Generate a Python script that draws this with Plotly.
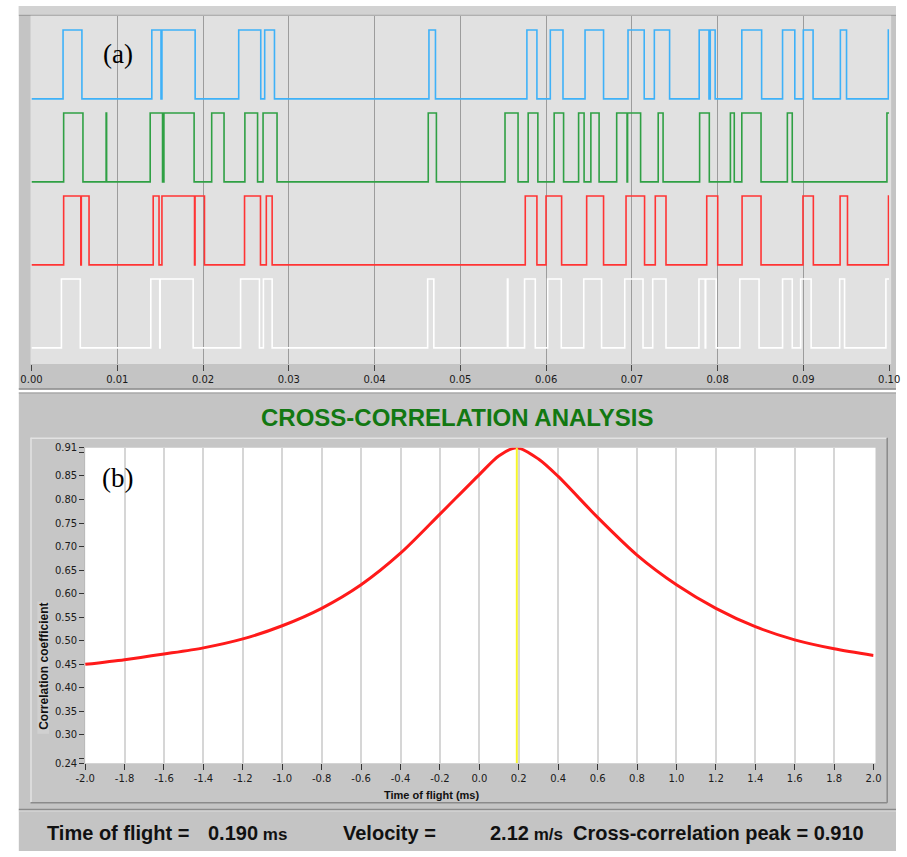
import plotly.graph_objects as go

W, H = 907, 857

# ---------------- data: panel (a) ----------------
# toggle times (s) of each binary sensor signal; every signal starts low at t = 0
t_blue = [0.00368, 0.00588, 0.01403, 0.01510, 0.01521, 0.01908, 0.02416, 0.02673, 0.02719, 0.02833,
          0.04634, 0.04710, 0.05776, 0.05893, 0.06049, 0.06197, 0.06454, 0.06670, 0.06955, 0.07144,
          0.07262, 0.07440, 0.07785, 0.07899, 0.07914, 0.07971, 0.08282, 0.08513, 0.08757, 0.08900,
          0.08999, 0.09113, 0.09431, 0.09503, 0.09990]
t_green = [0.00375, 0.00600, 0.00870, 0.00876, 0.01384, 0.01528, 0.01544, 0.01896, 0.02101, 0.02245,
           0.02488, 0.02636, 0.02700, 0.02863, 0.04626, 0.04721, 0.05521, 0.05673, 0.05791, 0.05904,
           0.06094, 0.06204, 0.06379, 0.06443, 0.06522, 0.06618, 0.06823, 0.06944, 0.06950, 0.07102,
           0.07307, 0.07364, 0.07790, 0.07903, 0.08149, 0.08194, 0.08282, 0.08506, 0.08813, 0.08870,
           0.09974]
t_red = [0.00375, 0.00575, 0.00581, 0.00671, 0.01419, 0.01487, 0.01521, 0.01901, 0.01907, 0.02017,
         0.02484, 0.02670, 0.02738, 0.02806, 0.05757, 0.05893, 0.05999, 0.06181, 0.06473, 0.06670,
         0.06932, 0.07148, 0.07273, 0.07398, 0.07873, 0.08001, 0.08285, 0.08506, 0.08995, 0.09116,
         0.09428, 0.09514, 0.09992]
t_white = [0.00349, 0.00569, 0.01391, 0.01495, 0.01501, 0.01885, 0.02438, 0.02658, 0.02704, 0.02806,
           0.04619, 0.04691, 0.05549, 0.05555, 0.05749, 0.05874, 0.06018, 0.06177, 0.06439, 0.06647,
           0.06917, 0.07130, 0.07243, 0.07398, 0.07782, 0.07855, 0.07861, 0.07983, 0.08259, 0.08483,
           0.08757, 0.08870, 0.08968, 0.09090, 0.09423, 0.09480, 0.09962]
signal_names = ["blue", "green", "red", "white"]
signal_base = [3, 2, 1, 0]
signal_amp = 0.83
a_ticks = [0.00, 0.01, 0.02, 0.03, 0.04, 0.05, 0.06, 0.07, 0.08, 0.09, 0.10]
a_ticktext = ["0.00", "0.01", "0.02", "0.03", "0.04", "0.05", "0.06", "0.07", "0.08", "0.09", "0.10"]

# ---------------- data: panel (b) ----------------
tof_ms = [-2.0, -1.8, -1.6, -1.4, -1.2, -1.0, -0.8, -0.6, -0.4, -0.2, 0.0, 0.1, 0.19,
          0.3, 0.4, 0.6, 0.8, 1.0, 1.2, 1.4, 1.6, 1.8, 2.0]
corr = [0.450, 0.460, 0.472, 0.485, 0.504, 0.532, 0.569, 0.619, 0.686, 0.769, 0.853, 0.893, 0.910,
        0.886, 0.849, 0.762, 0.682, 0.619, 0.569, 0.530, 0.502, 0.483, 0.469]
peak_tof = 0.19
b_xticks = [-2.0, -1.8, -1.6, -1.4, -1.2, -1.0, -0.8, -0.6, -0.4, -0.2, 0.0,
            0.2, 0.4, 0.6, 0.8, 1.0, 1.2, 1.4, 1.6, 1.8, 2.0]
b_xticktext = ["-2.0", "-1.8", "-1.6", "-1.4", "-1.2", "-1.0", "-0.8", "-0.6", "-0.4", "-0.2", "0.0",
               "0.2", "0.4", "0.6", "0.8", "1.0", "1.2", "1.4", "1.6", "1.8", "2.0"]
b_yticks = [0.24, 0.30, 0.35, 0.40, 0.45, 0.50, 0.55, 0.60, 0.65, 0.70, 0.75, 0.80, 0.85, 0.91]
b_yticktext = ["0.24", "0.30", "0.35", "0.40", "0.45", "0.50", "0.55", "0.60", "0.65", "0.70",
               "0.75", "0.80", "0.85", "0.91"]

title_text = "CROSS-CORRELATION ANALYSIS"
result_labels = ["Time of flight =", "Velocity =", "Cross-correlation peak = 0.910"]
result_values = ["0.190", "2.12"]
result_units = ["ms", "m/s"]


def px(x):
    return x / W


def py(y):
    return 1 - y / H


def step_xy(toggles, base, amp):
    xs = [0.0]
    ys = [base]
    level = 0
    for t in toggles:
        level = 1 - level
        xs.append(t)
        ys.append(base + amp * level)
    xs.append(0.1)
    ys.append(ys[-1])
    return xs, ys


fig = go.Figure()

colors = {"blue": "#3eb1f8", "green": "#2fa044", "red": "#ff3434", "white": "#ffffff"}
toggles_all = {"blue": t_blue, "green": t_green, "red": t_red, "white": t_white}
for name, base in zip(signal_names, signal_base):
    xs, ys = step_xy(toggles_all[name], base, signal_amp)
    fig.add_trace(go.Scatter(x=xs, y=ys, mode="lines", line=dict(color=colors[name], width=1.6, shape="hv"),
                             xaxis="x", yaxis="y", showlegend=False, hoverinfo="skip"))

fig.add_trace(go.Scatter(x=tof_ms, y=corr, mode="lines",
                         line=dict(color="#ff1a1a", width=3, shape="spline", smoothing=0.8),
                         xaxis="x2", yaxis="y2", showlegend=False, hoverinfo="skip"))
fig.add_trace(go.Scatter(x=[peak_tof, peak_tof], y=[0.24, 0.91], mode="lines",
                         line=dict(color="#f6f62a", width=2),
                         xaxis="x2", yaxis="y2", showlegend=False, hoverinfo="skip"))

shapes = []


def rect(x0, y0, x1, y1, fill, lc=None, lw=0):
    shapes.append(dict(type="rect", xref="paper", yref="paper", x0=px(x0), x1=px(x1), y0=py(y1), y1=py(y0),
                       fillcolor=fill, line=dict(color=lc or fill, width=lw), layer="below"))


def line(x0, y0, x1, y1, color, w=1):
    shapes.append(dict(type="line", xref="paper", yref="paper", x0=px(x0), x1=px(x1), y0=py(y0), y1=py(y1),
                       line=dict(color=color, width=w), layer="below"))


# panel (a) frame
rect(8, 0, 907, 389, "#c4c4c4")
rect(8, 0, 907, 9, "#d2d2d2")
line(8, 9.5, 907, 9.5, "#9a9a9a")
rect(20, 10, 902, 363, "#e1e1e1")
line(8, 388.5, 907, 388.5, "#8c8c8c", 1.5)
# panel (b) frame
rect(8, 392, 907, 857, "#c4c4c4")
line(8, 392.5, 907, 392.5, "#9a9a9a")
rect(20, 438, 898, 808, "#c6c6c6")
line(20, 438.5, 898, 438.5, "#e2e2e2", 1.5)
line(20.5, 438, 20.5, 808, "#e2e2e2", 1.5)
line(20, 808, 898, 808, "#8a8a8a", 1.5)
line(898, 438, 898, 808, "#8a8a8a", 1.5)
line(8, 815, 907, 815, "#8a8a8a", 1.5)
line(8, 816.5, 907, 816.5, "#dadada", 1)
rect(76, 448, 886, 768, "#ffffff")
rect(27, 604, 39, 738, "#d0d0d0")

annotations = [
    dict(text="(a)", x=px(109.5), y=py(48.5), xref="paper", yref="paper", showarrow=False,
         xanchor="center", yanchor="middle", font=dict(family="Liberation Serif", size=27, color="#000")),
    dict(text="(b)", x=px(109.5), y=py(479), xref="paper", yref="paper", showarrow=False,
         xanchor="center", yanchor="middle", font=dict(family="Liberation Serif", size=27, color="#000")),
    dict(text=title_text, x=px(457), y=py(417), xref="paper", yref="paper", showarrow=False,
         xanchor="center", yanchor="middle",
         font=dict(family="Liberation Sans", size=24, color="#127812", weight="bold")),
    dict(text="Time of flight (ms)", x=px(431), y=py(800), xref="paper", yref="paper", showarrow=False,
         xanchor="center", yanchor="middle",
         font=dict(family="Liberation Sans", size=11, color="#111", weight="bold")),
    dict(text="Correlation coefficient", x=px(33), y=py(670), xref="paper", yref="paper", showarrow=False,
         xanchor="center", yanchor="middle", textangle=-90,
         font=dict(family="Liberation Sans", size=12, color="#111", weight="bold")),
]
res_font = dict(family="Liberation Sans", size=20, color="#111", weight="bold")
for txt, xp in zip(result_labels[:2], [35, 338]):
    annotations.append(dict(text=txt, x=px(xp), y=py(839), xref="paper", yref="paper", showarrow=False,
                            xanchor="left", yanchor="middle", font=res_font))
for val, unit, xp in zip(result_values, result_units, [200, 489]):
    annotations.append(dict(text=val + "<span style='font-size:17px'> " + unit + "</span>",
                            x=px(xp), y=py(839), xref="paper", yref="paper", showarrow=False,
                            xanchor="left", yanchor="middle", font=res_font))
annotations.append(dict(text=result_labels[2], x=px(876), y=py(839), xref="paper", yref="paper", showarrow=False,
                        xanchor="right", yanchor="middle", font=res_font))

tickfont = dict(family="DejaVu Sans", size=10, color="#1a1a1a")

fig.update_layout(
    width=W, height=H, margin=dict(l=0, r=0, t=0, b=0),
    paper_bgcolor="#ffffff", plot_bgcolor="rgba(0,0,0,0)",
    shapes=shapes, annotations=annotations, hovermode=False,
    xaxis=dict(domain=[px(21), px(900)], range=[0, 0.1], anchor="y",
               tickvals=a_ticks, ticktext=a_ticktext, tickfont=tickfont,
               ticks="outside", ticklen=6, tickcolor="#444", tickwidth=1,
               showgrid=True, gridcolor="#9c9c9c", gridwidth=1, zeroline=False, showline=False),
    yaxis=dict(domain=[py(362.7), py(10)], range=[-0.19, 4.0], anchor="x",
               showticklabels=False, ticks="", showgrid=False, zeroline=False, showline=False),
    xaxis2=dict(domain=[px(76), px(884)], range=[-2.0, 2.0], anchor="y2",
                tickvals=b_xticks, ticktext=b_xticktext, tickfont=tickfont,
                ticks="outside", ticklen=6, tickcolor="#333", tickwidth=1,
                showgrid=True, gridcolor="#d6d6d6", gridwidth=1.5, zeroline=False, showline=False),
    yaxis2=dict(domain=[py(768), py(448)], range=[0.24, 0.91], anchor="x2",
                tickvals=b_yticks, ticktext=b_yticktext, tickfont=tickfont,
                ticks="outside", ticklen=5, tickcolor="#333", tickwidth=1,
                minor=dict(tickvals=[0.25, 0.90], ticks="outside", ticklen=5, tickcolor="#333", showgrid=False),
                showgrid=False, zeroline=False, showline=True, linecolor="#bbbbbb", linewidth=1),
)

fig.write_html("out.html", config={"displayModeBar": False})
